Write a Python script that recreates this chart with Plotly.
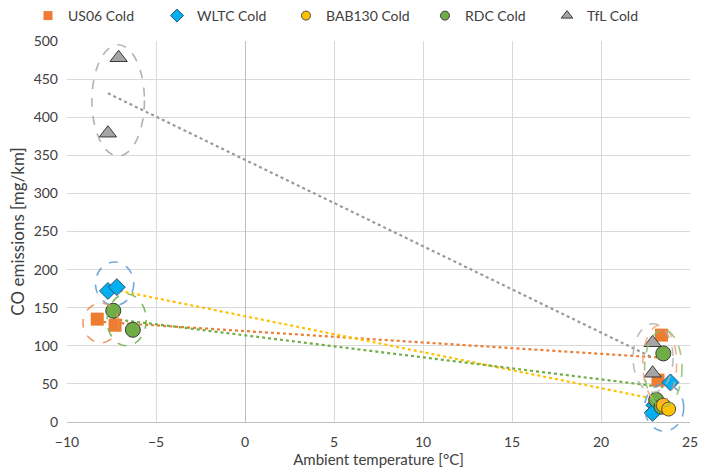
import numpy as np
import plotly.graph_objects as go

# Ambient temperature [°C] and CO emissions [mg/km] per test cycle
us06_temp = [-8.3, -7.3, 23.4, 23.2]
us06_co = [135, 127, 114, 55]

wltc_temp = [-7.7, -7.2, 23.9, 23.0, 22.9]
wltc_co = [172, 177, 52, 22, 12]

bab130_temp = [23.5, 23.8]
bab130_co = [22, 17]

rdc_temp = [-7.4, -6.3, 23.5, 23.1, 23.4]
rdc_co = [146, 121, 90, 29, 20]

tfl_temp = [-7.1, -7.7, 22.9, 22.9]
tfl_co = [478, 379, 104, 64]

names = ["US06 Cold", "WLTC Cold", "BAB130 Cold", "RDC Cold", "TfL Cold"]

X_RANGE = [-10, 25]
Y_RANGE = [0, 500]
W, H = 705, 468

series = [
    dict(name=names[0], x=us06_temp, y=us06_co, symbol="square", size=13,
         color="#ED7D31", line=dict(width=0), trend="#ED7D31", key=9),
    dict(name=names[1], x=wltc_temp, y=wltc_co, symbol="diamond", size=13,
         color="#00B0F0", line=dict(width=1, color="#2F4F6F"), trend="#FFC000",
         key=10),
    dict(name=names[2], x=bab130_temp, y=bab130_co, symbol="circle", size=14,
         color="#FFC000", line=dict(width=1, color="#4D4D4D"), trend=None,
         key=9),
    dict(name=names[3], x=rdc_temp, y=rdc_co, symbol="circle", size=15,
         color="#70AD47", line=dict(width=1, color="#3A3A3A"), trend="#70AD47",
         key=9),
    dict(name=names[4], x=tfl_temp, y=tfl_co, symbol="triangle-up", size=15,
         color="#A5A5A5", line=dict(width=1, color="#3A3A3A"), trend="#9A9A9A",
         key=10),
]

fig = go.Figure()

# Linear least-squares trendlines, spanning each series' temperature range
for s in series:
    if s["trend"] is None:
        continue
    xs = np.array(s["x"], dtype=float)
    ys = np.array(s["y"], dtype=float)
    k, b = np.polyfit(xs, ys, 1)
    xt = np.array([xs.min(), xs.max()])
    fig.add_trace(go.Scatter(
        x=xt, y=k * xt + b, mode="lines", showlegend=False, hoverinfo="skip",
        line=dict(color=s["trend"], width=2.2, dash="dot"),
    ))

# Markers; the yellow circles sit on top of the green ones
draw_order = [0, 1, 3, 2, 4]
for i in draw_order:
    s = series[i]
    fig.add_trace(go.Scatter(
        x=s["x"], y=s["y"], mode="markers", name=s["name"], showlegend=False,
        marker=dict(symbol=s["symbol"], size=s["size"], color=s["color"],
                    line=s["line"]),
        cliponaxis=False,
    ))

# Legend keys with small symbols, one legend per series in a spaced row
legend_left = [28, 157, 286, 425, 547]
legend_ids = ["legend", "legend2", "legend3", "legend4", "legend5"]
for s, lid in zip(series, legend_ids):
    fig.add_trace(go.Scatter(
        x=[None], y=[None], mode="markers", name=s["name"], legend=lid,
        marker=dict(symbol=s["symbol"], size=s["key"], color=s["color"],
                    line=s["line"]),
    ))

# Dashed rings grouping the cold-start and warm test clusters
rings = [
    (-8.6, -5.65, 349, 495, "#A6A6A6"),
    (-8.4, -6.25, 153, 210, "#5B9BD5"),
    (-9.1, -7.1, 104, 156, "#F08A4B"),
    (-7.75, -5.55, 100, 168, "#70AD47"),
    (21.8, 24.05, 39, 129, "#B3B3B3"),
    (22.35, 24.25, 26, 127, "#F4A274"),
    (22.45, 24.55, 20, 121, "#8CC06A"),
    (22.45, 24.65, -12, 50, "#5B9BD5"),
]


def to_paper(v, rng):
    return (v - rng[0]) / (rng[1] - rng[0])


for x0, x1, y0, y1, c in rings:
    fig.add_shape(
        type="circle", xref="paper", yref="paper",
        x0=to_paper(x0, X_RANGE), x1=to_paper(x1, X_RANGE),
        y0=to_paper(y0, Y_RANGE), y1=to_paper(y1, Y_RANGE),
        line=dict(color=c, width=1.6, dash="dash"), opacity=0.85,
        layer="above",
    )

font_family = "Lato, 'Open Sans', sans-serif"

legend_style = dict(
    orientation="h", xref="container", yref="container",
    y=1.0, xanchor="left", yanchor="top",
    font=dict(size=14, color="#404040"), itemsizing="trace",
    bgcolor="rgba(0,0,0,0)",
)

fig.update_layout(
    width=W, height=H,
    margin=dict(l=67, r=15, t=41, b=46, autoexpand=False),
    paper_bgcolor="white", plot_bgcolor="white",
    font=dict(family=font_family, size=14, color="#404040"),
    showlegend=True,
    xaxis=dict(
        range=X_RANGE, dtick=5, tick0=-10, automargin=False,
        showgrid=True, gridcolor="#D9D9D9", gridwidth=1,
        zeroline=True, zerolinecolor="#BFBFBF", zerolinewidth=1.2,
        showline=False, ticks="", ticklabelstandoff=10,
        tickfont=dict(size=14, color="#404040"),
        title=dict(text="Ambient temperature [°C]", standoff=4,
                   font=dict(size=15, color="#404040")),
    ),
    yaxis=dict(
        range=Y_RANGE, dtick=50, tick0=0, automargin=False,
        showgrid=True, gridcolor="#D9D9D9", gridwidth=1,
        zeroline=True, zerolinecolor="#BFBFBF", zerolinewidth=1.2,
        showline=False, ticks="", ticklabelstandoff=8,
        tickfont=dict(size=14, color="#404040"),
        title=dict(text="CO emissions [mg/km]", standoff=4,
                   font=dict(size=17, color="#404040")),
    ),
)

for lid, left in zip(legend_ids, legend_left):
    fig.update_layout({lid: dict(legend_style, x=left / W)})

fig.write_html("out.html")
